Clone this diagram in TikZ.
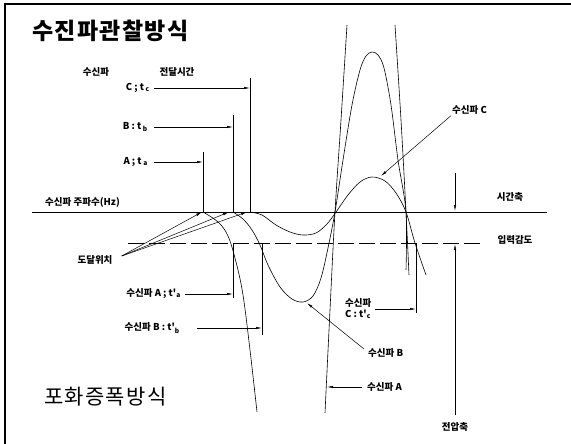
\documentclass[tikz,border=0pt]{standalone}
\usepackage{fontspec}
\newfontfamily\kr{Noto Sans CJK KR}
\newfontfamily\krwide[LetterSpace=6]{Noto Sans CJK KR}
\usetikzlibrary{arrows.meta,positioning}

\tikzset{
  lbl/.style={font=\kr\bfseries\fontsize{9.5}{11}\selectfont, inner sep=1pt},
  bigtitle/.style={font=\krwide\bfseries\fontsize{23}{26}\selectfont, inner sep=0pt},
  subtitle/.style={font=\krwide\fontsize{21}{24}\selectfont, inner sep=0pt},
  arr/.style={-{Latex[length=6pt,width=2.4pt]}, line width=0.5pt},
  wave/.style={line width=0.6pt},
  marker/.style={line width=0.5pt},
}

\begin{document}
\begin{tikzpicture}[x=1pt,y=-1pt]
\useasboundingbox (0,0) rectangle (571,444);
% frame
\draw[line width=1.6pt] (5,444) -- (5,4) -- (571,4);

% axes
\coordinate (axL) at (32,212);
\coordinate (axR) at (547,212);
\draw[line width=0.6pt] (axL) -- (axR);
\draw[line width=0.6pt, dash pattern=on 16pt off 5pt] (128,243) -- (480,243);

% arrival points on the time axis
\coordinate (ta) at (203,212);
\coordinate (tb) at (233,212);
\coordinate (tc) at (250,212);

% received waves
\draw[wave] plot[smooth, tension=0.6] coordinates {(203,212) (218,222) (228,236) (236,262) (243,295) (250,350) (257,412)};
\draw[wave] plot[smooth, tension=0.6] coordinates {(325,413) (330,310) (335,212) (341,120) (347,25)};
\draw[wave] plot[smooth, tension=0.6] coordinates {(395,25) (401,120) (406,212) (409,275)};
\draw[wave] plot[smooth, tension=0.55] coordinates {(233,212) (243,219) (252,230) (260,245) (268,265) (280,287) (292,299) (303,302) (313,296) (321,278) (328,248) (335,212) (343,160) (352,105) (360,70) (366,56) (372,52) (378,55) (384,68) (391,105) (398,160) (406,212) (406,270)};
\draw[wave] plot[smooth, tension=0.55] coordinates {(250,212) (262,215) (276,225) (290,232) (303,235) (316,233) (327,224) (336,212) (348,195) (360,182) (372,177) (385,181) (396,193) (406,212) (415,243) (426,275)};

% time markers
\draw[marker] (203,152) -- (ta);
\draw[marker] (233,115) -- (tb);
\draw[marker] (250,78) -- (tc);
\draw[marker] (233,243) -- (233,298);
\draw[marker] (262,243) -- (262,335);
\draw[marker] (416,243) -- (416,313);

% titles
\node[bigtitle, anchor=west] (ttlobs) at (32,31) {수진파관찰방식};
\node[subtitle, anchor=west] (ttlsat) at (44,397) {포화증폭방식};

% upper labels
\node[lbl] (hdwave) at (96,72) {수신파};
\node[lbl] (hdtime) at (177,72) {전달시간};
\node[lbl, anchor=east] (lc) at (151,88) {C ; t\,\textsubscript{c}};
\node[lbl, anchor=east] (lb) at (149,127) {B : t\,\textsubscript{b}};
\node[lbl, anchor=east] (la) at (149,162) {A ; t\,\textsubscript{a}};
\draw[arr] (lc.east) ++(3,0) -- (250,88);
\draw[arr] (lb.east) ++(5,0) -- (233,127);
\draw[arr] (la.east) ++(5,0) -- (203,162);
\node[lbl, anchor=west] (lfreq) at (44,202) {수신파 주파수(Hz)};

% arrival position
\node[lbl] (larr) at (95,260) {도달위치};
\draw[arr] (larr.east) ++(8,-4) -- ([xshift=-1pt]ta);
\draw[arr] (larr.east) ++(8,-4) -- ([xshift=-4pt]tb);
\draw[arr] (larr.east) ++(8,-4) -- ([xshift=-3pt]tc);

% sensitivity crossing labels
\node[lbl, anchor=east] (lta) at (182,294) {수신파 A ; t'\textsubscript{a}};
\node[lbl, anchor=east] (ltb) at (181,328) {수신파 B : t'\textsubscript{b}};
\draw[arr] (lta.east) ++(3,0) -- (233,294);
\draw[arr] (ltb.east) ++(16,0) -- (262,328);
\node[lbl, anchor=west, align=left] (ltc) at (344,309) {수신파\\C : t'\textsubscript{c}};
\draw[arr] (ltc.east) ++(2,0) -- (416,309);

% wave labels
\node[lbl, anchor=west] (lwc) at (451,110) {수신파 C};
\node[lbl, anchor=west] (lwb) at (367,353) {수신파 B};
\node[lbl, anchor=west] (lwa) at (366,387) {수신파 A};
\coordinate (cpeak) at (381,176);
\coordinate (bmin) at (307,303);
\draw[arr] (lwc.south west) -- (cpeak);
\draw[arr] (lwb.west) ++(-3,-4) -- (bmin);
\draw[arr] (lwa.west) ++(-4,0) -- (327,387);

% axis labels
\node[lbl] (ltime) at (510,197) {시간축};
\node[lbl] (lsens) at (515,240) {입력감도};
\node[lbl] (lvolt) at (455,427) {전압축};
\draw[arr] (455,173) -- (455,211);
\draw[arr] (lvolt.north) ++(0,-6) -- (455,244);
\end{tikzpicture}
\end{document}
